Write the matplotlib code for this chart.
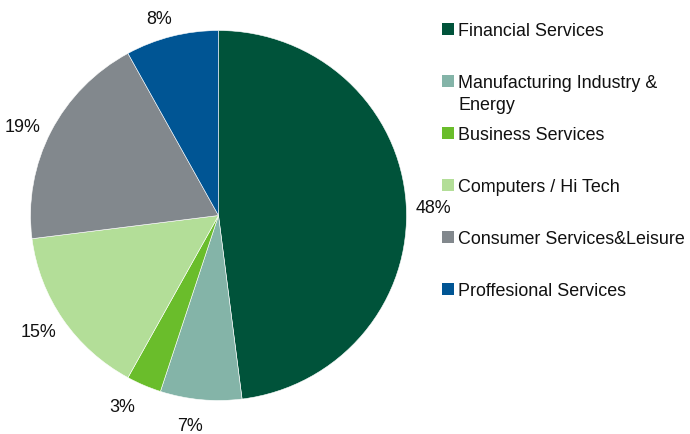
import numpy as np
import matplotlib
matplotlib.use("Agg")
import matplotlib.pyplot as plt
from matplotlib.patches import Rectangle

plt.rcParams['font.family'] = ['Liberation Sans', 'DejaVu Sans']

categories = ["Financial Services", "Manufacturing Industry &\nEnergy", "Business Services",
              "Computers / Hi Tech", "Consumer Services&Leisure", "Proffesional Services"]
shares = [48, 7, 3, 15, 19, 8]
colors = ["#00533A", "#84B4A8", "#6ABD2B", "#B3DE98", "#82888D", "#005594"]

# label placement tweaks (angle shift in degrees, radial distance)
label_shift = [-1.5, -2.4, -3.4, -1.5, 2.5, 2.5]
label_dist = [1.145, 1.125, 1.14, 1.14, 1.145, 1.095]

W, H = 690, 435
FS = 12.9
fig = plt.figure(figsize=(W / 100, H / 100), dpi=100)

# pie axes centred at (218.5, 216) px from the top-left corner
cx, cy, rx, ry = 218.5, 216.5, 188, 185
ax = fig.add_axes([(cx - rx) / W, (H - cy - ry) / H, 2 * rx / W, 2 * ry / H])
wedges, _ = ax.pie(shares, colors=colors, startangle=90, counterclock=False,
                   wedgeprops=dict(linewidth=0.4, edgecolor="white"))
ax.set_xlim(-1, 1)
ax.set_ylim(-1, 1)
ax.set_aspect("auto")
ax.axis("off")

for w, val, dth, dist in zip(wedges, shares, label_shift, label_dist):
    mid = np.deg2rad((w.theta1 + w.theta2) / 2 + dth)
    # radial distance measured in horizontal-radius units
    px = dist * np.cos(mid)
    py = dist * rx * np.sin(mid) / ry
    ax.text(px, py, f"{val}%", ha="center", va="center", fontsize=FS,
            color="#111111", clip_on=False)

# legend drawn entry by entry
row_y = [30, 82, 134, 186, 238, 290]
for label, col, y in zip(categories, colors, row_y):
    fig.patches.append(Rectangle((442 / W, (H - y - 6) / H), 12 / W, 12 / H,
                                 transform=fig.transFigure, facecolor=col,
                                 edgecolor="none"))
    for k, line in enumerate(label.split("\n")):
        fig.text(458 / W, (H - (y + 6.5 + 22 * k)) / H, line, fontsize=FS,
                 color="#111111", ha="left", va="baseline")

fig.savefig("out.png", dpi=100)
